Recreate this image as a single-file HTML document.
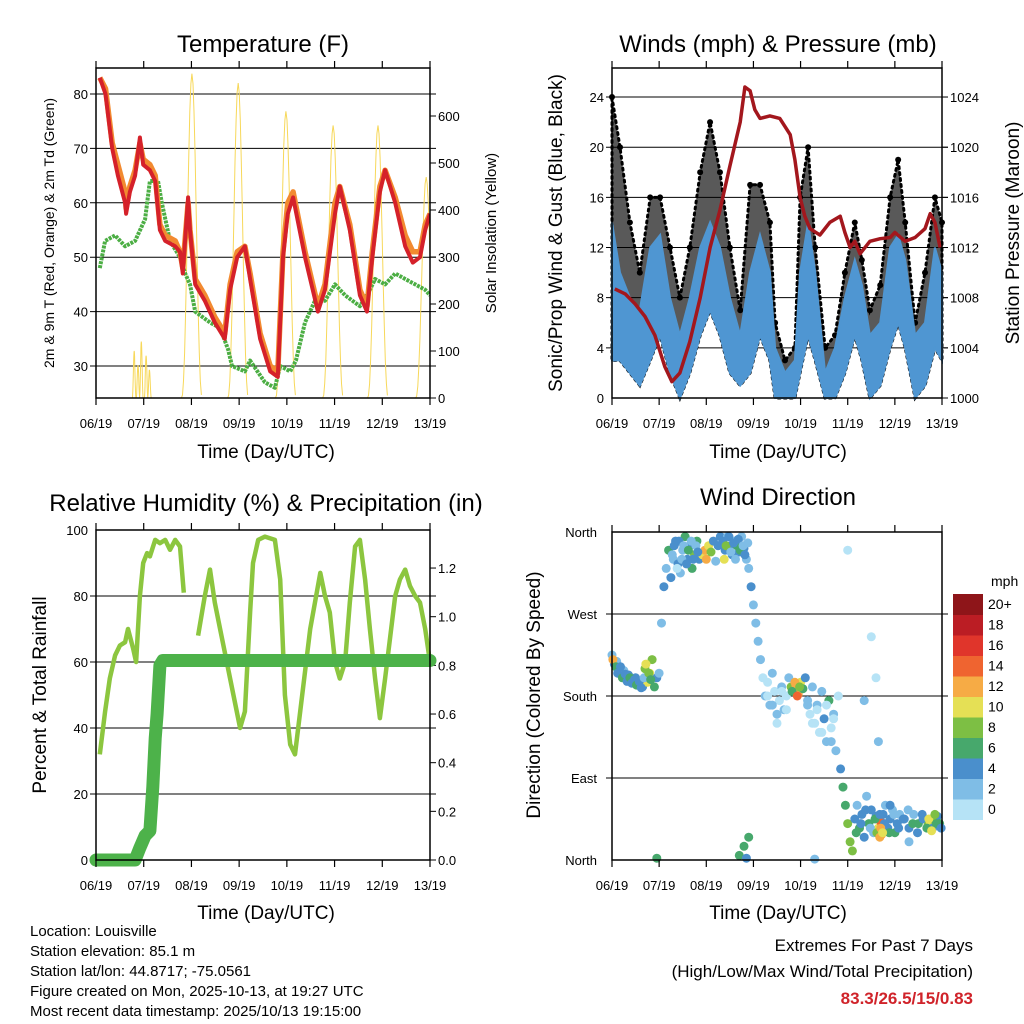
<!DOCTYPE html>
<html><head><meta charset="utf-8"><style>
html,body{margin:0;padding:0;background:#fff}
svg{display:block;font-family:"Liberation Sans",sans-serif}
</style></head><body>
<svg id="chart" width="1024" height="1024" viewBox="0 0 1024 1024">
<rect x="0" y="0" width="1024" height="1024" fill="#fff"/>
<text x="263" y="52" font-size="24" text-anchor="middle">Temperature (F)</text>
<text x="778" y="52" font-size="24" text-anchor="middle">Winds (mph) &amp; Pressure (mb)</text>
<text x="266" y="511" font-size="24" text-anchor="middle">Relative Humidity (%) &amp; Precipitation (in)</text>
<text x="778" y="505" font-size="24" text-anchor="middle">Wind Direction</text>
<text x="266" y="458" font-size="19" text-anchor="middle">Time (Day/UTC)</text>
<text x="778" y="458" font-size="19" text-anchor="middle">Time (Day/UTC)</text>
<text x="266" y="919" font-size="19" text-anchor="middle">Time (Day/UTC)</text>
<text x="778" y="919" font-size="19" text-anchor="middle">Time (Day/UTC)</text>
<text transform="translate(54,233) rotate(-90)" font-size="14" text-anchor="middle">2m &amp; 9m T (Red, Orange) &amp; 2m Td (Green)</text>
<text transform="translate(496,233) rotate(-90)" font-size="15" text-anchor="middle">Solar Insolation (Yellow)</text>
<text transform="translate(562,233) rotate(-90)" font-size="19" text-anchor="middle">Sonic/Prop Wind &amp; Gust (Blue, Black)</text>
<text transform="translate(1019,233) rotate(-90)" font-size="19" text-anchor="middle">Station Pressure (Maroon)</text>
<text transform="translate(46,695) rotate(-90)" font-size="19" text-anchor="middle">Percent &amp; Total Rainfall</text>
<text transform="translate(540,695) rotate(-90)" font-size="19" text-anchor="middle">Direction (Colored By Speed)</text>
<g font-size="15">
<text x="30" y="936">Location: Louisville</text>
<text x="30" y="956">Station elevation: 85.1 m</text>
<text x="30" y="976">Station lat/lon: 44.8717; -75.0561</text>
<text x="30" y="996">Figure created on Mon, 2025-10-13, at 19:27 UTC</text>
<text x="30" y="1016">Most recent data timestamp: 2025/10/13 19:15:00</text>
</g>
<text x="973" y="951" font-size="17" text-anchor="end">Extremes For Past 7 Days</text>
<text x="973" y="977" font-size="17" text-anchor="end">(High/Low/Max Wind/Total Precipitation)</text>
<text x="973" y="1004" font-size="17" font-weight="bold" fill="#d0232a" text-anchor="end">83.3/26.5/15/0.83</text>
<text x="991" y="586" font-size="14">mph</text>
</svg>
<script>
const dayLabels=["06/19","07/19","08/19","09/19","10/19","11/19","12/19","13/19"];
const tempTicks=[30,40,50,60,70,80];
const solarTicks=[0,100,200,300,400,500,600];
const windTicks=[0,4,8,12,16,20,24];
const presTicks=[1000,1004,1008,1012,1016,1020,1024];
const rhTicks=[0,20,40,60,80,100];
const rainTicks=[0,0.2,0.4,0.6,0.8,1.0,1.2];
const dirTickVals=[0,90,180,270,360];
const dirTickLabels=["North","East","South","West","North"];
const speedBins=[0,2,4,6,8,10,12,14,16,18,20];
const speedLabels=["0","2","4","6","8","10","12","14","16","18","20+"];
const speedColors=["#b6e3f6","#7fbde6","#4a8fcc","#47a86c","#7dbf44","#e5e055","#f6ab45","#ef6430","#e0352b","#bb1d24","#8e1519"];

const tTimes=[0.08,0.2,0.34,0.46,0.61,0.63,0.71,0.82,0.92,0.99,1.13,1.24,1.34,1.45,1.66,1.76,1.82,1.93,1.97,2.08,2.28,2.49,2.70,2.81,2.96,3.12,3.23,3.44,3.65,3.81,3.92,4.02,4.13,4.38,4.65,4.80,5.01,5.11,5.32,5.53,5.68,5.79,5.95,6.06,6.27,6.48,6.64,6.79,6.90,7.0];
const tRed=[83,80,70,65,60,58,62,65,72,67,66,64,55,53,52,51,47,61,55,45,42,38,35,44,50,52,46,35,29,28,50,58,61,50,40,44,58,63,55,43,40,50,62,66,60,52,49,50,55,58];
const tOrange=[83,81,71,67,62,59,63,66,71,68,67,65,56,54,53,51,48,60,55,46,43,39,36,45,51,52,47,36,30,29,51,60,62,51,41,45,60,63,56,44,41,51,63,66,61,54,51,51,56,58];
const tdTimes=[0.08,0.19,0.40,0.61,0.82,1.03,1.13,1.30,1.38,1.55,1.76,1.87,1.97,2.08,2.39,2.60,2.77,2.85,3.12,3.23,3.54,3.75,3.86,4.07,4.19,4.38,4.59,4.80,5.01,5.22,5.53,5.74,5.85,6.06,6.27,6.48,6.69,6.90,7.0];
const tdVals=[48,53,54,52,53,57,64,64,60,53,50,47,45,40,38,37,33,30,29,31,27,26,30,29,31,38,42,42,45,43,41,44,46,45,47,46,45,44,43];
const solarPeakTimes=[0.8,0.88,0.95,1.05,1.12,2.01,2.98,3.98,4.97,5.91,6.92];
const solarPeakVals=[100,70,120,90,60,690,670,610,580,580,470];
const solarPeakWidths=[0.04,0.04,0.04,0.04,0.04,0.22,0.22,0.22,0.22,0.22,0.22];

const wTimes=[0,0.17,0.38,0.59,0.81,1.02,1.23,1.44,1.65,1.87,2.08,2.29,2.5,2.72,2.93,3.14,3.35,3.46,3.67,3.88,3.99,4.16,4.31,4.52,4.73,4.94,5.15,5.30,5.47,5.69,5.90,6.07,6.22,6.43,6.64,6.85,7.0];
const wLo=[3,3,2,1,3,5,2,0,2,5,7,5,2,1,2,5,3,0,0,0,2,5,3,0,0,2,5,3,0,1,4,6,4,0,1,4,3];
const wHi=[14,10,8,7,12,13,8,5,8,12,14,12,8,5,10,13,10,4,2,3,10,14,10,2,4,8,11,9,5,6,12,13,11,5,6,12,10];
const wGust=[24,20,14,10,16,16,12,8,12,18,22,18,12,7,17,17,14,6,3,4,16,20,12,4,5,10,14,11,7,9,16,19,14,6,10,16,14];
const pTimes=[0.06,0.28,0.49,0.70,0.91,1.12,1.27,1.44,1.65,1.87,2.08,2.29,2.5,2.72,2.82,2.93,3.03,3.14,3.35,3.56,3.78,3.88,3.99,4.09,4.2,4.41,4.62,4.84,4.94,5.05,5.15,5.26,5.47,5.69,5.90,6.0,6.22,6.43,6.64,6.75,6.85,6.96];
const pVals=[1008.7,1008.3,1007.5,1006.5,1005,1002.5,1001.3,1002,1004.5,1008,1012,1015,1018.5,1022,1024.8,1024.5,1023,1022.3,1022.5,1022.3,1021,1019,1016,1014.5,1013.5,1013,1014,1014.5,1013.2,1012,1012.5,1011.5,1012.5,1012.7,1012.8,1013.2,1012.5,1012.8,1013.5,1014.7,1014,1012];

const rhTimes=[0.08,0.19,0.29,0.40,0.50,0.61,0.67,0.78,0.84,0.92,0.99,1.07,1.13,1.24,1.34,1.45,1.55,1.66,1.76,1.84,null,2.14,2.28,2.39,2.49,2.60,2.81,3.02,3.12,3.23,3.29,3.40,3.54,3.75,3.86,3.96,4.07,4.17,4.28,4.49,4.70,4.80,4.90,5.01,5.11,5.22,5.32,5.43,5.53,5.64,5.74,5.85,5.95,6.06,6.27,6.37,6.48,6.58,6.69,6.79,6.90,7.0];
const rhVals=[32,45,55,62,65,66,70,64,60,80,90,93,92,97,96,97,94,97,95,81,null,68,80,88,78,70,55,40,45,75,90,97,98,97,85,50,35,32,45,70,87,80,75,60,55,60,78,95,97,85,70,55,43,55,80,85,88,83,80,78,70,60];
const rainTimes=[0,0.82,0.92,1.03,1.13,1.19,1.24,1.28,1.34,1.40,7.0];
const rainVals=[0,0,0.05,0.1,0.12,0.3,0.5,0.6,0.8,0.82,0.82];

const dirTimes=[0.0,0.05,0.1,0.15,0.2,0.25,0.3,0.35,0.4,0.45,0.5,0.55,0.6,0.65,0.7,0.75,0.8,0.85,0.9,0.95,1.0,1.05,1.1,1.15,1.2,1.25,1.3,1.35,1.4,1.45,1.5,1.55,1.6,1.65,1.7,1.75,1.8,1.85,1.92,1.97,2.0,2.05,2.1,2.15,2.2,2.25,2.3,2.4,2.45,2.5,2.55,2.6,2.65,2.7,2.75,2.8,2.85,2.9,2.95,3.0,3.05,3.1,2.7,2.8,2.85,2.9,0.95,4.3,3.15,3.2,3.25,3.3,3.35,3.4,3.45,3.5,3.55,3.6,3.65,3.7,3.75,3.8,3.85,3.9,3.95,4.0,4.05,4.1,4.15,4.2,4.25,4.3,4.35,4.4,4.45,4.5,4.55,4.6,4.65,4.7,4.75,4.8,5.0,4.85,4.9,4.95,5.0,5.05,5.1,5.15,5.2,5.25,5.3,5.35,5.4,5.45,5.5,5.55,5.6,5.65,5.7,5.72,5.75,5.8,5.85,5.9,5.95,6.0,6.05,6.1,6.2,6.3,6.4,6.5,6.6,6.7,6.75,6.8,6.9,6.95,5.5,5.6,5.65,5.35,5.9,6.3,
0.02,0.08,0.12,0.18,0.22,0.28,0.32,0.38,0.42,0.48,0.52,0.58,0.62,0.68,0.72,0.78,0.82,
1.28,1.32,1.38,1.42,1.48,1.52,1.58,1.62,1.68,1.72,1.78,1.82,2.35,2.38,2.42,2.48,2.52,2.58,2.62,2.68,2.72,2.78,2.82,2.88,
3.3,3.4,3.5,3.6,3.7,4.15,4.25,4.35,4.45,4.55,4.65,4.7,3.82,3.88,3.93,3.98,
5.18,5.28,5.38,5.48,5.58,5.62,5.68,5.78,5.88,5.98,6.08,6.18,6.28,6.38,6.48,6.58,6.68,6.78,6.88,6.98,5.68,5.7,5.74,6.72,6.78,6.85];
const dirDegs=[225,215,218,210,205,208,200,203,198,196,200,193,195,190,210,195,205,220,190,200,205,260,300,320,340,310,330,350,325,315,340,355,330,345,320,335,350,330,335,340,330,345,338,350,328,345,355,340,355,345,335,350,345,338,355,342,330,320,300,280,260,240,5,15,2,25,2,1,220,200,180,195,170,205,185,160,175,190,165,180,200,190,185,192,182,195,188,200,175,160,190,150,170,140,185,155,130,175,145,160,120,180,340,100,80,60,40,20,10,45,60,35,50,25,70,40,55,30,48,35,42,28,50,60,35,45,55,30,40,50,45,35,50,40,45,38,42,35,48,40,245,200,130,175,60,20,
220,212,205,212,200,204,196,200,194,198,192,196,189,200,215,205,198,
335,345,320,350,330,345,325,340,350,330,345,338,350,330,345,355,338,348,330,352,340,345,335,348,
180,170,150,185,165,170,150,165,140,170,130,155,185,195,180,190,
30,40,55,35,45,30,50,40,30,50,35,45,55,40,30,50,35,45,40,35,25,35,30,45,32,50];
const dirSpeeds=[3,4,2,3,4,2,3,4,3,2,4,3,5,4,9,10,11,8,6,4,3,3,5,2,6,4,3,5,4,2,3,6,4,5,7,8,6,4,11,13,12,10,9,4,3,5,4,4,3,5,4,2,6,4,3,5,3,2,4,3,2,3,7,6,4,7,6,2,2,1,2,1,2,3,1,2,1,2,3,1,2,8,11,13,12,10,7,4,2,1,2,1,3,1,2,4,2,6,1,2,3,1,1,5,7,6,8,9,8,4,3,6,4,5,3,7,4,3,5,11,14,12,4,3,5,4,3,6,4,3,4,5,3,6,4,9,10,5,4,6,1,1,2,3,4,2,
12,6,5,4,6,5,4,6,4,5,6,4,5,3,10,8,6,
2,4,1,5,3,2,4,6,3,5,2,4,5,10,8,4,3,5,2,4,7,3,5,2,
1,2,1,0,1,2,0,1,1,0,2,1,7,12,14,9,
6,4,5,3,7,8,5,4,6,2,4,5,3,6,4,5,7,9,6,4,13,12,10,11,10,8];

const NS="http://www.w3.org/2000/svg";
const svg=document.getElementById('chart');
function mk(tag,attrs,parent){const e=document.createElementNS(NS,tag);for(const k in attrs)e.setAttribute(k,attrs[k]);(parent||svg).appendChild(e);return e;}
function txt(x,y,s,size,anchor){const e=mk('text',{x:x,y:y,'font-size':size,'text-anchor':anchor});e.textContent=s;return e;}
function pathFrom(ts,vs,fx,fy){let d="",pen=false;for(let i=0;i<ts.length;i++){if(ts[i]===null||vs[i]===null){pen=false;continue;}d+=(pen?"L":"M")+fx(ts[i]).toFixed(1)+","+fy(vs[i]).toFixed(1);pen=true;}return d;}

function frame(x0,y0,x1,y1,xs,name){
  for(let i=0;i<dayLabels.length;i++){
    const x=xs(i);
    const t1=mk('line',{x1:x,y1:y1,x2:x,y2:y1+7,stroke:'#000','stroke-width':1.2});
    
    
    const t2=mk('line',{x1:x,y1:y0,x2:x,y2:y0-7,stroke:'#000','stroke-width':1.2});
    
    
    const l=txt(x,y1+30,dayLabels[i],13,'middle');
    
    
  }
  const r=mk('rect',{x:x0,y:y0,width:x1-x0,height:y1-y0,fill:'none',stroke:'#000','stroke-width':1.5});
  
  
}
function hgrid(x0,x1,y){
  const g=mk('line',{x1:x0-6,y1:y,x2:x1+6,y2:y,stroke:'#000','stroke-width':1});
  
  
}

/* ---------- Temperature ---------- */
const TX0=96,TX1=430,TY0=68,TY1=398;
const tx=d=>TX0+d*(TX1-TX0)/7, ty=v=>366-(v-30)*5.44, sy=v=>TY1-v*0.47;
tempTicks.forEach(v=>{hgrid(TX0,TX1,ty(v));const l=txt(88,ty(v)+5,String(v),13,'end');});
solarTicks.forEach(v=>{const k=mk('line',{x1:TX1,y1:sy(v),x2:TX1+6,y2:sy(v),stroke:'#000'});const l=txt(438,sy(v)+5,String(v),13,'start');});
const cp=mk('clipPath',{id:'cT'});
mk('rect',{x:TX0,y:TY0,width:TX1-TX0,height:TY1-TY0},cp);
const gT=mk('g',{'clip-path':'url(#cT)'});


solarPeakTimes.forEach((t,i)=>{
  let d="";const hw=solarPeakWidths[i];
  for(let k=0;k<=20;k++){const u=-hw+2*hw*k/20;const v=solarPeakVals[i]*Math.pow(Math.cos(Math.PI/2*u/hw),2.5);d+=(k?"L":"M")+tx(t+u).toFixed(1)+","+sy(v).toFixed(1);}
  const p=mk('path',{d:d,fill:'none',stroke:'#f7d85a','stroke-width':1},gT);
  
  
});
const pTd=mk('path',{d:pathFrom(tdTimes,tdVals,tx,ty),fill:'none',stroke:'#4cae44','stroke-width':4,'stroke-dasharray':'3 1','stroke-linejoin':'round'},gT);


const pOr=mk('path',{d:pathFrom(tTimes,tOrange,tx,ty),fill:'none',stroke:'#f28a30','stroke-width':5.5,'stroke-linejoin':'round'},gT);


const pRd=mk('path',{d:pathFrom(tTimes,tRed,tx,ty),fill:'none',stroke:'#d5212a','stroke-width':4,'stroke-linejoin':'round'},gT);


frame(TX0,TY0,TX1,TY1,tx,'temperature');

/* ---------- Winds ---------- */
const WX0=612,WX1=942,WY0=68,WY1=398;
const wx=d=>WX0+d*(WX1-WX0)/7, wy=v=>WY1-v*12.54, py=p=>WY1-(p-1000)*12.54;
windTicks.forEach(v=>{if(v>0)hgrid(WX0,WX1,wy(v));const l=txt(604,wy(v)+5,String(v),13,'end');});
presTicks.forEach(v=>{const k=mk('line',{x1:WX1,y1:py(v),x2:WX1+6,y2:py(v),stroke:'#000'});const l=txt(950,py(v)+5,String(v),13,'start');});
let gd="";
for(let i=0;i<wTimes.length;i++)gd+=(i?"L":"M")+wx(wTimes[i]).toFixed(1)+","+wy(wGust[i]).toFixed(1);
for(let i=wTimes.length-1;i>=0;i--)gd+="L"+wx(wTimes[i]).toFixed(1)+","+wy(wLo[i]).toFixed(1);
const gustArea=mk('path',{d:gd+"Z",fill:'#000','fill-opacity':0.65,stroke:'#000','stroke-width':3,'stroke-dasharray':'2 4','stroke-linecap':'round'});


wTimes.forEach((t,i)=>{const c=mk('circle',{cx:wx(t),cy:wy(wGust[i]),r:3,fill:'#000'});});
let bd="";
for(let i=0;i<wTimes.length;i++)bd+=(i?"L":"M")+wx(wTimes[i]).toFixed(1)+","+wy(wHi[i]).toFixed(1);
for(let i=wTimes.length-1;i>=0;i--)bd+="L"+wx(wTimes[i]).toFixed(1)+","+wy(wLo[i]).toFixed(1);
const windArea=mk('path',{d:bd+"Z",fill:'#4f96d2',stroke:'#4f96d2','stroke-width':2});


const pP=mk('path',{d:pathFrom(pTimes,pVals,wx,py),fill:'none',stroke:'#a3171d','stroke-width':3.5,'stroke-linejoin':'round'});


frame(WX0,WY0,WX1,WY1,wx,'winds');

/* ---------- RH ---------- */
const RX0=96,RX1=430,RY0=530,RY1=860;
const rx=d=>RX0+d*(RX1-RX0)/7, ry=v=>RY1-v*3.3, pry=v=>RY1-v*243.3;
rhTicks.forEach(v=>{if(v>0&&v<100)hgrid(RX0,RX1,ry(v));const l=txt(88,ry(v)+5,String(v),13,'end');});
rainTicks.forEach(v=>{const k=mk('line',{x1:RX1,y1:pry(v),x2:RX1+6,y2:pry(v),stroke:'#000'});const l=txt(438,pry(v)+5,v.toFixed(1),13,'start');});
const pRH=mk('path',{d:pathFrom(rhTimes,rhVals,rx,ry),fill:'none',stroke:'#8cc63f','stroke-width':4.5,'stroke-linejoin':'round'});


const pRain=mk('path',{d:pathFrom(rainTimes,rainVals,rx,pry),fill:'none',stroke:'#4db24a','stroke-width':13,'stroke-linejoin':'round','stroke-linecap':'round'});


frame(RX0,RY0,RX1,RY1,rx,'humidity');

/* ---------- Wind direction ---------- */
const DX0=612,DX1=942,DY0=532,DY1=860;
const dx=d=>DX0+d*(DX1-DX0)/7, dy=v=>DY1-v*(DY1-DY0)/360;
dirTickVals.forEach((v,i)=>{if(v>0&&v<360)hgrid(DX0,DX1,dy(v));const l=txt(597,dy(v)+5,dirTickLabels[i],13,'end');});
function spdColor(s){let k=Math.min(10,Math.floor(s/2));return speedColors[k];}
dirTimes.forEach((t,i)=>{
  const c=mk('circle',{cx:dx(t).toFixed(1),cy:dy(dirDegs[i]).toFixed(1),r:4.5,fill:spdColor(dirSpeeds[i])});
  
  
});
frame(DX0,DY0,DX1,DY1,dx,'wind-direction');
const CB0=594,CBH=20.5;
speedBins.forEach((b,i)=>{
  const k=speedBins.length-1-i;
  const r=mk('rect',{x:953,y:CB0+k*CBH,width:30,height:CBH+0.5,fill:speedColors[i]});
  
  
  const l=txt(988,CB0+k*CBH+15,speedLabels[i],14,'start');
  
  
});
</script>
</body></html>
